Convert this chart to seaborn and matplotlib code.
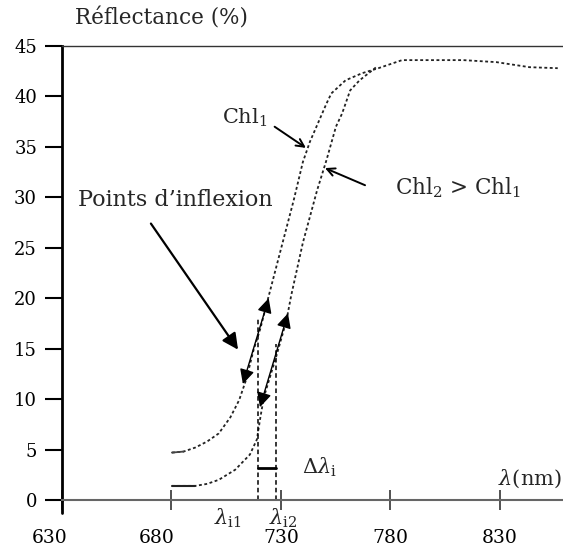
import matplotlib
matplotlib.use('Agg')
import matplotlib.pyplot as plt
import matplotlib.transforms as mtransforms
import seaborn as sns
import pandas as pd

sns.set_theme(style='white')
plt.rcParams['font.family'] = ['DejaVu Serif']
plt.rcParams['mathtext.fontset'] = 'dejavuserif'

# Chl1 curve (upper / left)
wl1 = [680.2, 685.5, 690.9, 696.3, 701.6, 706.9, 710.9, 714.2, 717.4, 720.6, 723.9, 729.3, 735.8,
       740.0, 743.2, 747.6, 750.8, 753.0, 759.5, 767.0, 774.5, 785.3, 798.2, 813.3, 828.4, 843.5, 856.4]
r1 = [4.7, 4.8, 5.2, 5.8, 6.6, 8.2, 9.9, 12.0, 14.8, 17.0, 19.8, 24.3, 29.7, 33.5, 35.5, 37.7, 39.3,
      40.3, 41.6, 42.3, 42.8, 43.6, 43.6, 43.6, 43.4, 42.9, 42.8]
# Chl2 curve (lower / right)
wl2 = [680.2, 685.5, 690.9, 696.3, 701.6, 709.1, 715.8, 719.0, 720.6, 722.2, 725.0, 728.2, 732.5,
       734.7, 740.0, 746.5, 750.8, 755.1, 757.9, 761.6, 765.9, 773.5]
r2 = [1.4, 1.4, 1.4, 1.6, 2.0, 3.0, 4.5, 6.0, 8.2, 10.2, 12.2, 14.5, 17.8, 20.3, 25.5, 30.7, 33.7,
      37.0, 38.3, 40.6, 41.6, 42.9]

xticks = [630, 680, 730, 780, 830]
yticks = [0, 5, 10, 15, 20, 25, 30, 35, 40, 45]
lam_i1, lam_i2 = 719.5, 727.7

df1 = pd.DataFrame({'nm': wl1, 'R': r1})
df2 = pd.DataFrame({'nm': wl2, 'R': r2})

fig = plt.figure(figsize=(5.63, 5.57), dpi=100)
ax = fig.add_axes([62 / 563, 57 / 557, 1 - 62 / 563, 454 / 557])

dot = (0, (1.6, 1.4))
sns.lineplot(data=df1, x='nm', y='R', ax=ax, color='#222222', lw=1.3, linestyle=dot)
sns.lineplot(data=df2, x='nm', y='R', ax=ax, color='#222222', lw=1.3, linestyle=dot)
# short solid starts of the curves
ax.plot(wl2[:3], r2[:3], color='#222222', lw=1.5)
ax.plot(wl1[:2], r1[:2], color='#444444', lw=1.3)

ax.set_xlim(630, 858.8)
ax.set_ylim(0, 45)
ax.set_xlabel('')
ax.set_ylabel('')

ax.spines['right'].set_visible(False)
ax.spines['left'].set_color('black')
ax.spines['left'].set_linewidth(2)
ax.spines['top'].set_color('#333333')
ax.spines['top'].set_linewidth(1.0)
ax.spines['bottom'].set_color('#666666')
ax.spines['bottom'].set_linewidth(1.5)
ax.plot([630, 630], [0, -1.3], color='black', lw=2, clip_on=False)

ax.set_yticks(yticks)
ax.set_xticks(xticks)
ax.tick_params(axis='y', direction='out', length=12, width=1.5, pad=6, labelsize=13,
               color='black', labelcolor='black', left=True)
ax.tick_params(axis='x', direction='inout', length=14, width=1.2, pad=14, labelsize=13.5,
               color='#333333', labelcolor='black', bottom=True)
lbls = ax.get_xticklabels()
for lbl, dx in zip(lbls[:2], [-12, -15]):
    lbl.set_transform(lbl.get_transform() +
                      mtransforms.ScaledTranslation(dx / 100, 0, fig.dpi_scale_trans))

fig.text(75 / 563, 1 - 19 / 557, 'Réflectance (%)', fontsize=15.5, va='center', ha='left')

# inflexion verticals and delta bar
ax.plot([lam_i1, lam_i1], [0, 18], color='black', lw=1.1, linestyle=(0, (3, 2)))
ax.plot([lam_i2, lam_i2], [0, 15.5], color='black', lw=1.1, linestyle=(0, (3, 2)))
ax.plot([lam_i1, lam_i2], [3.2, 3.2], color='black', lw=2)
ax.text(739.6, 3.2, r'$\Delta\lambda_{\rm i}$', fontsize=15, ha='left', va='center')
ax.text(705.8, -1.8, r'$\lambda_{\rm i1}$', fontsize=15, ha='center', va='center', clip_on=False)
ax.text(730.9, -1.8, r'$\lambda_{\rm i2}$', fontsize=15, ha='center', va='center', clip_on=False)
ax.text(858.2, 1.0, r'$\lambda$(nm)', fontsize=15, ha='right', va='bottom', clip_on=False)

# inflexion arrows on curves
ax.annotate('', xy=(724.4, 20.0), xytext=(712.6, 11.5),
            arrowprops=dict(arrowstyle='<|-|>', color='black', lw=1.0, mutation_scale=22,
                            shrinkA=0, shrinkB=0))
ax.annotate('', xy=(733.2, 18.5), xytext=(720.4, 9.2),
            arrowprops=dict(arrowstyle='<|-|>', color='black', lw=1.0, mutation_scale=22,
                            shrinkA=0, shrinkB=0))

# labels with arrows
ax.text(637.3, 29.7, 'Points d’inflexion', fontsize=16, ha='left', va='center')
ax.annotate('', xy=(710.4, 14.9), xytext=(670.6, 27.4),
            arrowprops=dict(arrowstyle='-|>', color='black', lw=1.6, mutation_scale=24,
                            shrinkA=0, shrinkB=0))
ax.text(713.6, 37.9, r'Chl$_{\rm 1}$', fontsize=15, ha='center', va='center')
ax.annotate('', xy=(741.4, 34.9), xytext=(727.1, 37.0),
            arrowprops=dict(arrowstyle='->', color='black', lw=1.4, mutation_scale=14,
                            shrinkA=0, shrinkB=0))
ax.text(810.8, 31.0, r'Chl$_{\rm 2}$ > Chl$_{\rm 1}$', fontsize=15.5, ha='center', va='center')
ax.annotate('', xy=(750.1, 32.9), xytext=(768.4, 31.2),
            arrowprops=dict(arrowstyle='->', color='black', lw=1.4, mutation_scale=14,
                            shrinkA=0, shrinkB=0))

fig.savefig('out.png', dpi=100, facecolor='white')
